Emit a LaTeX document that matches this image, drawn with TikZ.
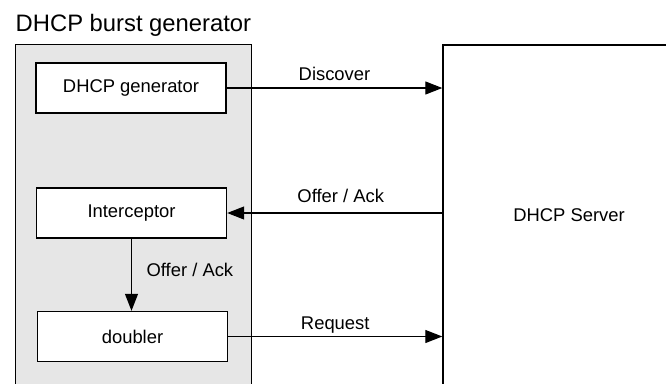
\documentclass[tikz,border=0pt]{standalone}
\usepackage{fontspec}
\setmainfont{Liberation Sans}
\usetikzlibrary{arrows.meta}
\definecolor{panelgray}{HTML}{E6E6E6}
\begin{document}
\begin{tikzpicture}[x=1pt,y=-1pt,
  lbl/.style={font=\fontsize{18.4}{22}\selectfont},
  blk/.style={draw, line width=1.4pt, fill=white, minimum width=190pt, minimum height=50pt, inner sep=0pt, lbl},
  conn/.style={line width=1.2pt, -{Triangle[length=17pt,width=13pt]}},
  elabel/.style={lbl, anchor=base, inner sep=0pt}]
\useasboundingbox (0,0) rectangle (666,383);
\node[draw, line width=1.4pt, fill=panelgray, minimum width=236pt, minimum height=400pt, anchor=north west, inner sep=0pt] (burst) at (15,44) {};
\node[anchor=base west, inner sep=0pt, font=\fontsize{23.8}{28}\selectfont] (title) at (15.5,31.7) {DHCP burst generator};
\node[blk] (gen) at (131,88) {DHCP generator};
\node[blk] (icp) at (131.5,213) {Interceptor};
\node[blk] (dbl) at (132.5,336.5) {doubler};
\node[draw, line width=1.4pt, minimum width=252pt, minimum height=340pt, inner sep=0pt, lbl] (server) at (569,215) {DHCP Server};
\draw[conn] (gen.east) -- (gen.east -| server.west) node[elabel, midway, yshift=7.3pt] {Discover};
\draw[conn] (icp.east -| server.west) -- (icp.east) node[elabel, midway, yshift=10.3pt, xshift=6pt] {Offer / Ack};
\draw[conn] (dbl.east) -- (dbl.east -| server.west) node[elabel, midway, yshift=7.5pt] {Request};
\draw[conn] (icp.south) -- (icp.south |- dbl.north) node[elabel, anchor=base west, midway, xshift=14.5pt, yshift=-2.2pt] {Offer / Ack};
\end{tikzpicture}
\end{document}
